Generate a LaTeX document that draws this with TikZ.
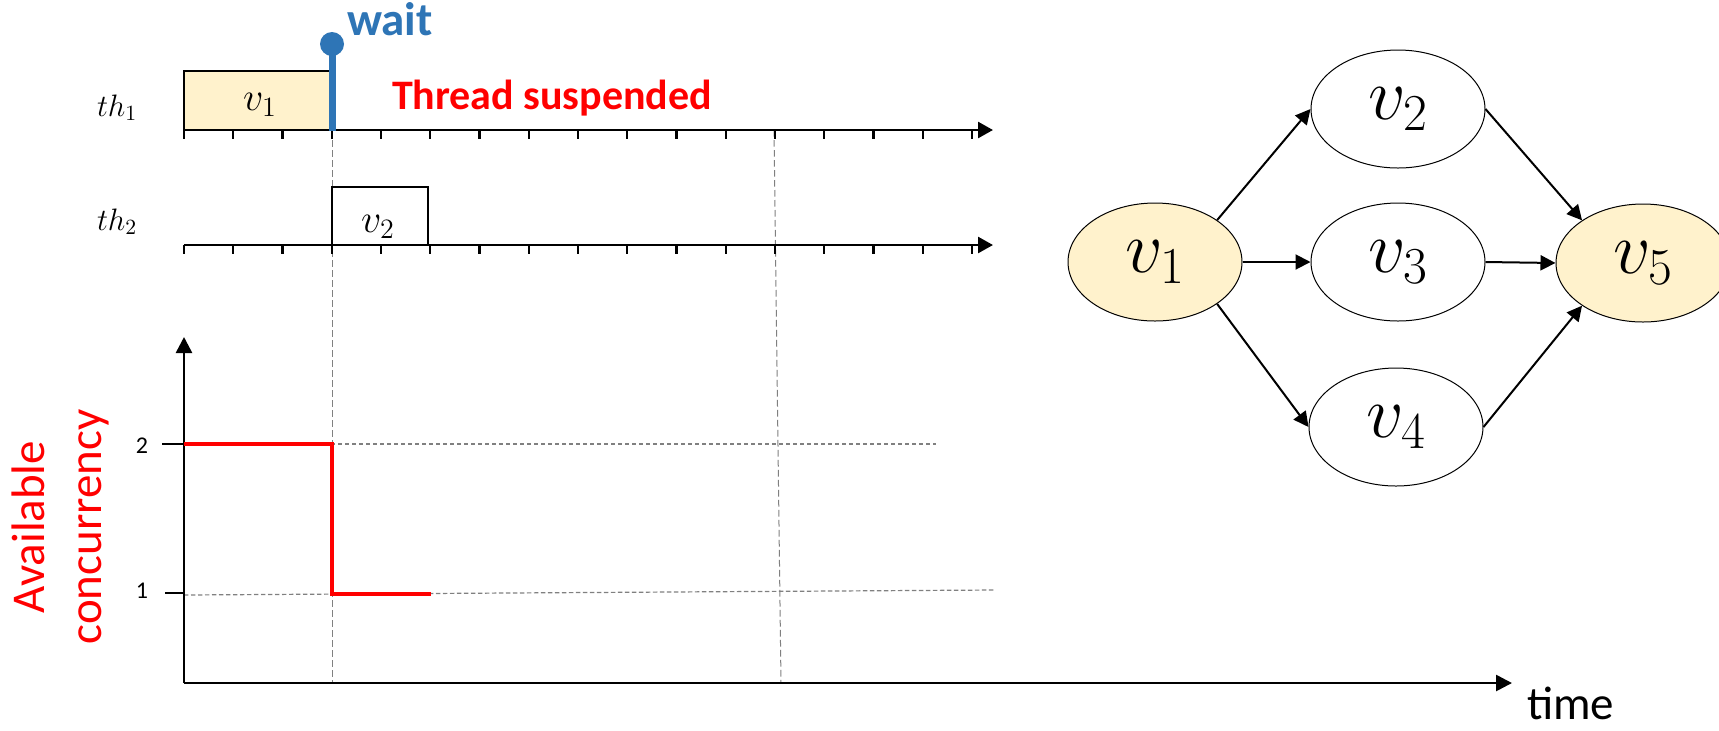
\RequirePackage{fix-cm}
\documentclass[tikz,border=0pt]{standalone}
\usepackage{fontspec}
\newfontfamily\calib{Carlito}
\usetikzlibrary{arrows.meta,shapes.geometric}
\definecolor{wblue}{HTML}{2E75B6}
\definecolor{vyellow}{HTML}{FFF2CC}
\definecolor{dgray}{HTML}{808080}
\definecolor{cred}{HTML}{FF0000}
\tikzset{
  axisline/.style={line width=1.3pt,-{Triangle[length=7.5pt,width=8pt]}},
  tickmark/.style={line width=1.2pt},
  gridv/.style={draw=dgray,line width=0.5pt,dash pattern=on 3.3pt off 1.7pt},
  gridh/.style={draw=dgray,line width=0.6pt,dash pattern=on 2.2pt off 1.3pt},
  taskbox/.style={draw=black,line width=0.6pt},
  vnode/.style={ellipse,draw=black,line width=0.5pt,minimum width=87pt,minimum height=59pt,inner sep=0pt,font=\fontsize{37}{40}\selectfont},
  dagedge/.style={line width=1pt,-{Triangle[length=7.5pt,width=7.5pt]}},
  lbl/.style={inner sep=0pt,outer sep=0pt},
}
\begin{document}
\begin{tikzpicture}[x=0.5pt,y=-0.5pt]
\useasboundingbox (0,0) rectangle (1719,730);
\clip (0,0) rectangle (1719,730);
\fill[white] (0,0) rectangle (1719,730);

% ---------- timelines ----------
\coordinate (a1s) at (184,130);
\coordinate (a1e) at (993,130);
\coordinate (a2s) at (184,245);
\coordinate (a2e) at (993,245);

% vertical dashed guide lines
\coordinate (g1t) at (332,130);
\coordinate (g1b) at (332,683);
\coordinate (g2t) at (774,130);
\coordinate (g2b) at (781,683);
\draw[gridv] (g1t) -- (g1b);
\draw[gridv] (g2t) -- (g2b);

% task boxes
\fill[vyellow] (184,71) rectangle (332,130);
\draw[taskbox] (332,130) -- (184,130) -- (184,71) -- (332,71);
\draw[taskbox,fill=white] (332,245) -- (332,187) -- (428,187) -- (428,245);
\node[lbl,anchor=base,font=\fontsize{20}{24}\selectfont] (tv1) at (260,110) {$v_1$};
\node[lbl,anchor=base,font=\fontsize{20}{24}\selectfont] (tv2) at (378,232) {$v_2$};

% axes
\draw[axisline] (a1s) -- (a1e);
\draw[axisline] (a2s) -- (a2e);
\foreach \i in {0,...,16}{
  \draw[tickmark] ({184+49.25*\i},130) -- ++(0,9);
  \draw[tickmark] ({184+49.25*\i},245) -- ++(0,9);
}

% thread labels
\node[lbl,anchor=base west,font=\fontsize{15.5}{18}\selectfont] (th1) at (97,116) {$th_1$};
\node[lbl,anchor=base west,font=\fontsize{15.5}{18}\selectfont] (th2) at (97,230) {$th_2$};

% wait marker
\node[circle,fill=wblue,minimum size=12pt,inner sep=0pt] (waitdot) at (332,44) {};
\draw[wblue,line width=3.5pt] (332,131) -- (waitdot.center);
\node[lbl,anchor=base west,text=wblue,font=\calib\bfseries\fontsize{23.5}{27}\selectfont] (waitlbl) at (347,35) {wait};
\node[lbl,anchor=base west,text=cred,font=\calib\bfseries\fontsize{21}{25}\selectfont] (susp) at (392,109) {Thread suspended};

% ---------- concurrency chart ----------
\coordinate (org) at (184,683);
\coordinate (ytop) at (184,337);
\coordinate (xend) at (1512,683);
\draw[gridh] (184,444) -- (936,444);
\draw[gridh] (184,595) -- (995,590);
\draw[line width=0.6pt] (162,444) -- (184,444);
\draw[line width=0.6pt] (165,593) -- (184,593);
\draw[axisline,-{Triangle[length=8pt,width=8pt]}] (org) -- (ytop);
\draw[axisline,-{Triangle[length=8pt,width=8pt]}] (org) -- (xend);
\node[lbl,font=\calib\fontsize{12}{14}\selectfont] (l2) at (142,446) {2};
\node[lbl,font=\calib\fontsize{12}{14}\selectfont] (l1) at (142,591) {1};
\draw[cred,line width=1.6pt] (184,444) -- (332,444) -- (332,594) -- (431,594);
\node[rotate=90,align=center,text=cred,inner sep=0pt,font=\calib\fontsize{23.5}{28.5}\selectfont] (ylbl) at (60,527) {Available\\concurrency};
\node[lbl,anchor=base west,font=\calib\fontsize{23.5}{28}\selectfont] (timelbl) at (1527,719) {time};

% ---------- DAG ----------
\node[vnode,fill=vyellow] (v1) at (1155,262) {$v_1$};
\node[vnode,fill=white] (v2) at (1398,109) {$v_2$};
\node[vnode,fill=white] (v3) at (1398,262) {$v_3$};
\node[vnode,fill=white] (v4) at (1396,427) {$v_4$};
\node[vnode,fill=vyellow] (v5) at (1643,263) {$v_5$};
\draw[dagedge] (v1.34) -- (v2.west);
\draw[dagedge] (v1.east) -- (v3.west);
\draw[dagedge] (v1.-34) -- (v4.west);
\draw[dagedge] (v2.east) -- (v5.145);
\draw[dagedge] (v3.east) -- (v5.west);
\draw[dagedge] (v4.east) -- (v5.215);
\end{tikzpicture}
\end{document}
